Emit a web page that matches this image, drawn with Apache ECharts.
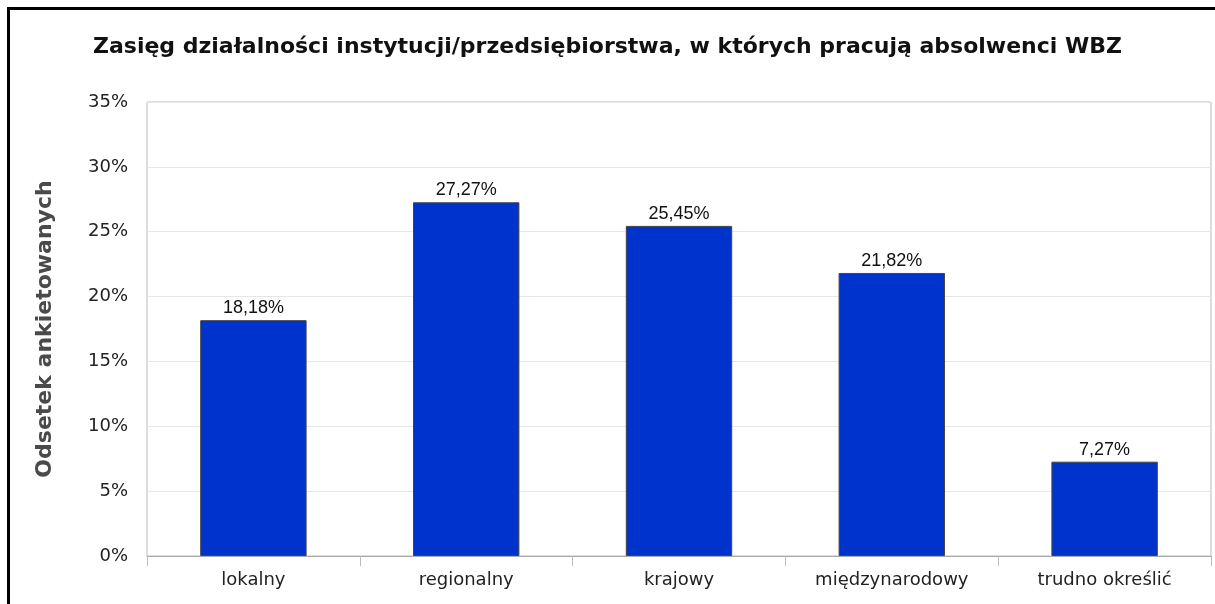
<!DOCTYPE html>
<html>
<head>
<meta charset="utf-8">
<script src="https://cdn.jsdelivr.net/npm/echarts@6/dist/echarts.min.js"></script>
<style>
  html, body { margin: 0; padding: 0; background: #fff; }
  #main { width: 1215px; height: 604px; }
</style>
</head>
<body>
<div id="main"></div>
<script>
let categories = ['lokalny', 'regionalny', 'krajowy', 'międzynarodowy', 'trudno określić']
let values = [18.18, 27.27, 25.45, 21.82, 7.27]
let yTicks = [0, 5, 10, 15, 20, 25, 30, 35]

let chart = echarts.init(document.getElementById('main'))

let option = {
    backgroundColor: '#fff',
    animation: false,
    title: {
        text: 'Zasięg działalności instytucji/przedsiębiorstwa, w których pracują absolwenci WBZ',
        left: 'center',
        top: 31,
        textStyle: {
            fontFamily: 'DejaVu Sans',
            fontWeight: 'bold',
            fontSize: 22,
            color: '#111'
        }
    },
    graphic: [{
        type: 'rect',
        shape: {x: 8.5, y: 8.5, width: 1300, height: 700},
        style: {fill: 'none', stroke: '#000', lineWidth: 3},
        silent: true
    }],
    grid: {
        left: 147,
        right: 4,
        top: 102,
        bottom: 48,
        show: true,
        borderColor: '#bbb',
        borderWidth: 1
    },
    xAxis: {
        type: 'category',
        data: categories,
        axisLine: {lineStyle: {color: '#aaa', width: 1}},
        axisTick: {show: true, length: 10, lineStyle: {color: '#bbb'}},
        axisLabel: {
            fontFamily: 'DejaVu Sans',
            fontSize: 18,
            color: '#222',
            margin: 15
        }
    },
    yAxis: {
        type: 'value',
        min: yTicks[0],
        max: yTicks[yTicks.length - 1],
        interval: 5,
        name: 'Odsetek ankietowanych',
        nameLocation: 'middle',
        nameGap: 91,
        nameTextStyle: {
            fontFamily: 'DejaVu Sans',
            fontWeight: 'bold',
            fontSize: 22,
            color: '#4a4a4a'
        },
        axisLine: {show: false},
        axisTick: {show: false},
        axisLabel: {
            formatter: '{value}%',
            fontFamily: 'DejaVu Sans',
            fontSize: 18,
            color: '#222',
            margin: 19
        },
        splitLine: {lineStyle: {color: '#e6e6e6', width: 1}}
    },
    series: [{
        type: 'bar',
        data: values,
        barWidth: '50%',
        itemStyle: {
            color: '#0033cc',
            borderColor: '#444',
            borderWidth: 1
        },
        label: {
            show: true,
            position: 'top',
            distance: 3,
            fontFamily: 'Liberation Sans',
            fontSize: 18,
            color: '#111',
            formatter: function (p) {
                return p.value.toFixed(2).replace('.', ',') + '%'
            }
        },
        silent: true
    }]
}
chart.setOption(option)
</script>
</body>
</html>
